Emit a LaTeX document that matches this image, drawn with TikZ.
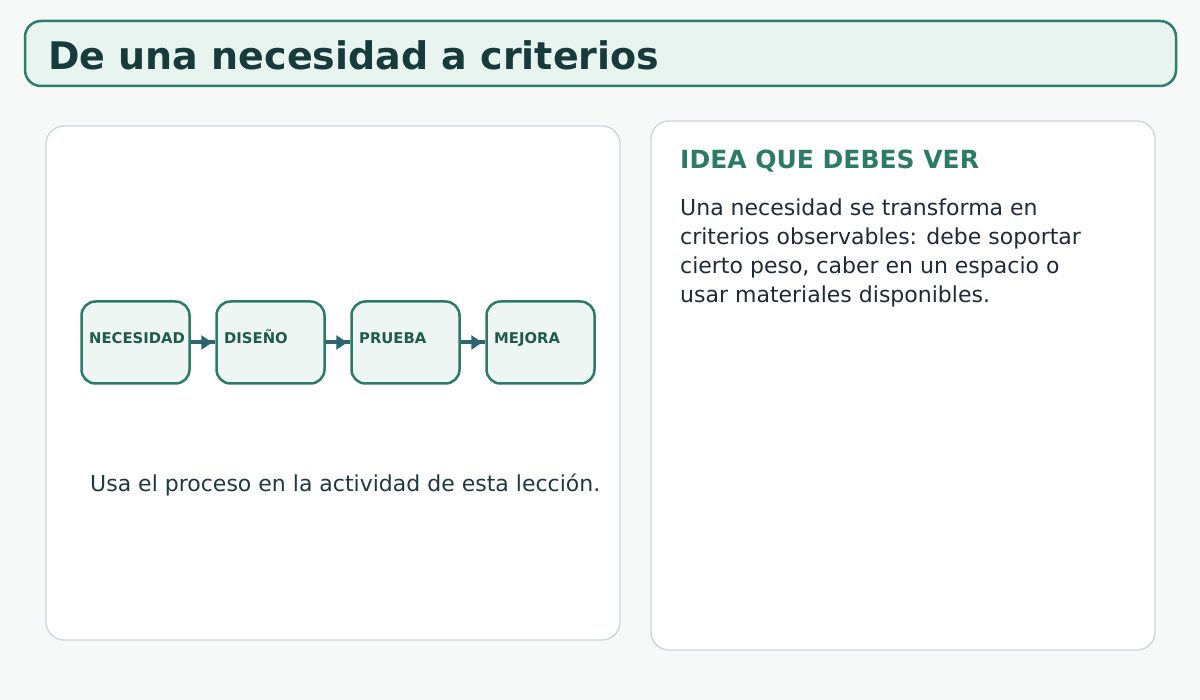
\documentclass[tikz,border=0pt]{standalone}
\usepackage{fontspec}
\setmainfont{DejaVu Sans}
\usetikzlibrary{arrows.meta}
\definecolor{bgc}{HTML}{F7F9F8}
\definecolor{titlefill}{HTML}{E8F4F0}
\definecolor{titlestroke}{HTML}{2E7D6E}
\definecolor{titletext}{HTML}{173A3A}
\definecolor{panelstroke}{HTML}{CBD5DA}
\definecolor{boxfill}{HTML}{EEF6F3}
\definecolor{boxstroke}{HTML}{2E7A6A}
\definecolor{boxtext}{HTML}{1F5A4A}
\definecolor{arrowc}{HTML}{2D6470}
\definecolor{headc}{HTML}{2E7A68}
\definecolor{bodyc}{HTML}{1F2A37}
\definecolor{notec}{HTML}{1E3A40}
\begin{document}
\begin{tikzpicture}[x=1pt,y=-1pt,
  panel/.style={draw=panelstroke,fill=white,line width=1.3pt,rounded corners=18pt},
  stepbox/.style={draw=boxstroke,fill=boxfill,line width=2.5pt,rounded corners=14pt,minimum width=108pt,minimum height=82pt,inner sep=0pt},
  steplabel/.style={anchor=base west,text=boxtext,font=\bfseries\fontsize{14.8}{17}\selectfont,inner sep=0pt},
  flowline/.style={draw=arrowc,line width=4pt},
  flowtip/.style={draw=arrowc,line width=4pt,shorten >=3pt,-{Triangle[length=11pt,width=14pt]}},
  txt/.style={anchor=base west,inner sep=0pt}]
\fill[bgc] (0,0) rectangle (1200,700);
\useasboundingbox (0,0) rectangle (1200,700);
\draw[draw=titlestroke,fill=titlefill,line width=2.5pt,rounded corners=16pt] (25,21) rectangle (1176,86);
\node[txt,text=titletext,font=\bfseries\fontsize{38}{42}\selectfont] (title) at (48,70) {De una necesidad a criterios};
\draw[panel] (46,126) rectangle (620,640);
\draw[panel] (651,121) rectangle (1155,650);
\node[stepbox] (b1) at (135.5,342.5) {};
\node[stepbox] (b2) at (270.5,342.5) {};
\node[stepbox] (b3) at (405.5,342.5) {};
\node[stepbox] (b4) at (540.5,342.5) {};
\node[steplabel] (l1) at (89,344) {NECESIDAD};
\node[steplabel] (l2) at (224,344) {DISEÑO};
\node[steplabel] (l3) at (359,344) {PRUEBA};
\node[steplabel] (l4) at (494,344) {MEJORA};
\draw[flowline] (b1.east) -- (b2.west);
\draw[flowline] (b2.east) -- (b3.west);
\draw[flowline] (b3.east) -- (b4.west);
\draw[flowtip] (b1.east) -- (b2.west);
\draw[flowtip] (b2.east) -- (b3.west);
\draw[flowtip] (b3.east) -- (b4.west);
\node[txt,text=notec,font=\fontsize{22}{26}\selectfont] (note) at (90,492) {Usa el proceso en la actividad de esta lección.};
\node[txt,text=headc,font=\bfseries\fontsize{25}{29}\selectfont] (head) at (680,169) {IDEA QUE DEBES VER};
\node[txt,text=bodyc,font=\fontsize{22}{26}\selectfont] (p1) at (680,216) {Una necesidad se transforma en};
\node[txt,text=bodyc,font=\fontsize{22}{26}\selectfont] (p2) at (680,245) {criterios observables: debe soportar};
\node[txt,text=bodyc,font=\fontsize{22}{26}\selectfont] (p3) at (680,274) {cierto peso, caber en un espacio o};
\node[txt,text=bodyc,font=\fontsize{22}{26}\selectfont] (p4) at (680,303) {usar materiales disponibles.};
\end{tikzpicture}
\end{document}
